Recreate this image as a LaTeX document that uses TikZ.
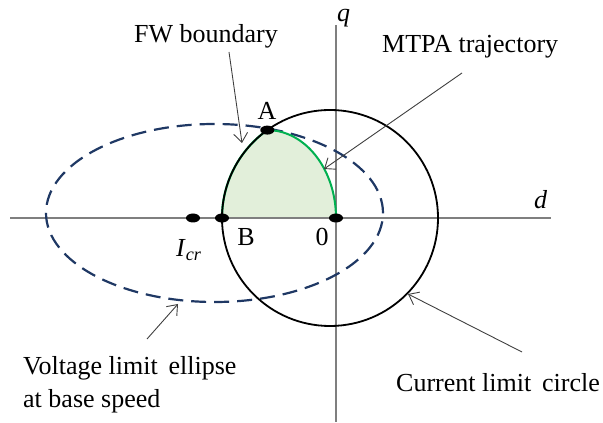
\documentclass[tikz,border=0pt]{standalone}
\usepackage{fontspec}
\setmainfont{Liberation Serif}
\usetikzlibrary{arrows.meta}
\definecolor{navyline}{HTML}{1F3864}
\definecolor{mtpagreen}{HTML}{00B050}
\definecolor{fillgreen}{HTML}{E2EFDA}
\definecolor{axisgray}{HTML}{7F7F7F}
\begin{document}
\begin{tikzpicture}[x=1pt,y=1pt,
  axisline/.style={draw=axisgray,line width=1.3pt},
  dotmark/.style={fill=black,draw=none},
  lbl/.style={inner sep=0pt,font=\fontsize{26}{31}\selectfont},
  pointer/.style={draw=black!75,line width=0.9pt,-{Straight Barb[length=9pt,width=14pt,line width=0.9pt]}}]
\useasboundingbox (0,0) rectangle (603,423);
% named points
\coordinate (O) at (336,205);
\coordinate (B) at (222,205);
\coordinate (Icr) at (193,205);
\coordinate (A) at (267.3,292.9);
\coordinate (C) at (330,205);
\coordinate (E) at (214.5,210);
\coordinate (dL) at (10,205);
\coordinate (dR) at (551,205);
\coordinate (qT) at (336,398);
\coordinate (qB) at (336,1);
% green region
\fill[fillgreen] (B) arc[start angle=180,end angle=125.5,radius=108]
  arc[start angle=90,end angle=0,x radius=68.7,y radius=87.9] -- cycle;
% axes
\draw[axisline] (dL) -- (dR);
\draw[axisline] (qT) -- (qB);
% voltage limit ellipse
\draw[navyline,line width=2.2pt,dash pattern=on 15pt off 8pt] (E) ellipse[x radius=168.5,y radius=89];
% green boundary
\draw[mtpagreen,line width=2.2pt] (B) arc[start angle=180,end angle=125.5,radius=108];
\draw[mtpagreen,line width=2pt] (A) arc[start angle=90,end angle=0,x radius=68.7,y radius=87.9];
% current limit circle
\draw[black,line width=1.8pt] (C) circle[radius=108];
% dots
\foreach \p in {O,B,Icr,A} \fill[dotmark] (\p) ellipse[x radius=7,y radius=4.5];
% labels
\node[lbl] (lA) at (267,312) {A};
\node[lbl] (lB) at (246,186) {B};
\node[lbl] (l0) at (322,186) {0};
\node[lbl,anchor=base west] (lIcr) at (176,166) {\textit{I}\textsubscript{\textit{cr}}};
\node[lbl,anchor=base west] (lq) at (337,401) {\textit{q}};
\node[lbl,anchor=base west] (ld) at (534,214) {\textit{d}};
\node[lbl,anchor=base west] (tFW) at (134,380) {FW boundary};
\node[lbl,anchor=base west] (tMTPA) at (382,370) {MTPA trajectory};
\node[lbl,anchor=base west] (tCur) at (396,31) {Current limit\, circle};
\node[lbl,anchor=base west,align=left] (tVol) at (23,48) {Voltage limit\, ellipse};
\node[lbl,anchor=base west] (tVol2) at (23,15) {at base speed};
% pointers
\coordinate (fwS) at (229,371); \coordinate (fwE) at (242,280);
\coordinate (mtS) at (462,350); \coordinate (mtE) at (324,254);
\coordinate (cuS) at (522,71);  \coordinate (cuE) at (408,129);
\coordinate (voS) at (147,84);  \coordinate (voE) at (178,119);
\draw[pointer] (fwS) -- (fwE);
\draw[pointer] (mtS) -- (mtE);
\draw[pointer] (cuS) -- (cuE);
\draw[pointer] (voS) -- (voE);
\end{tikzpicture}
\end{document}
